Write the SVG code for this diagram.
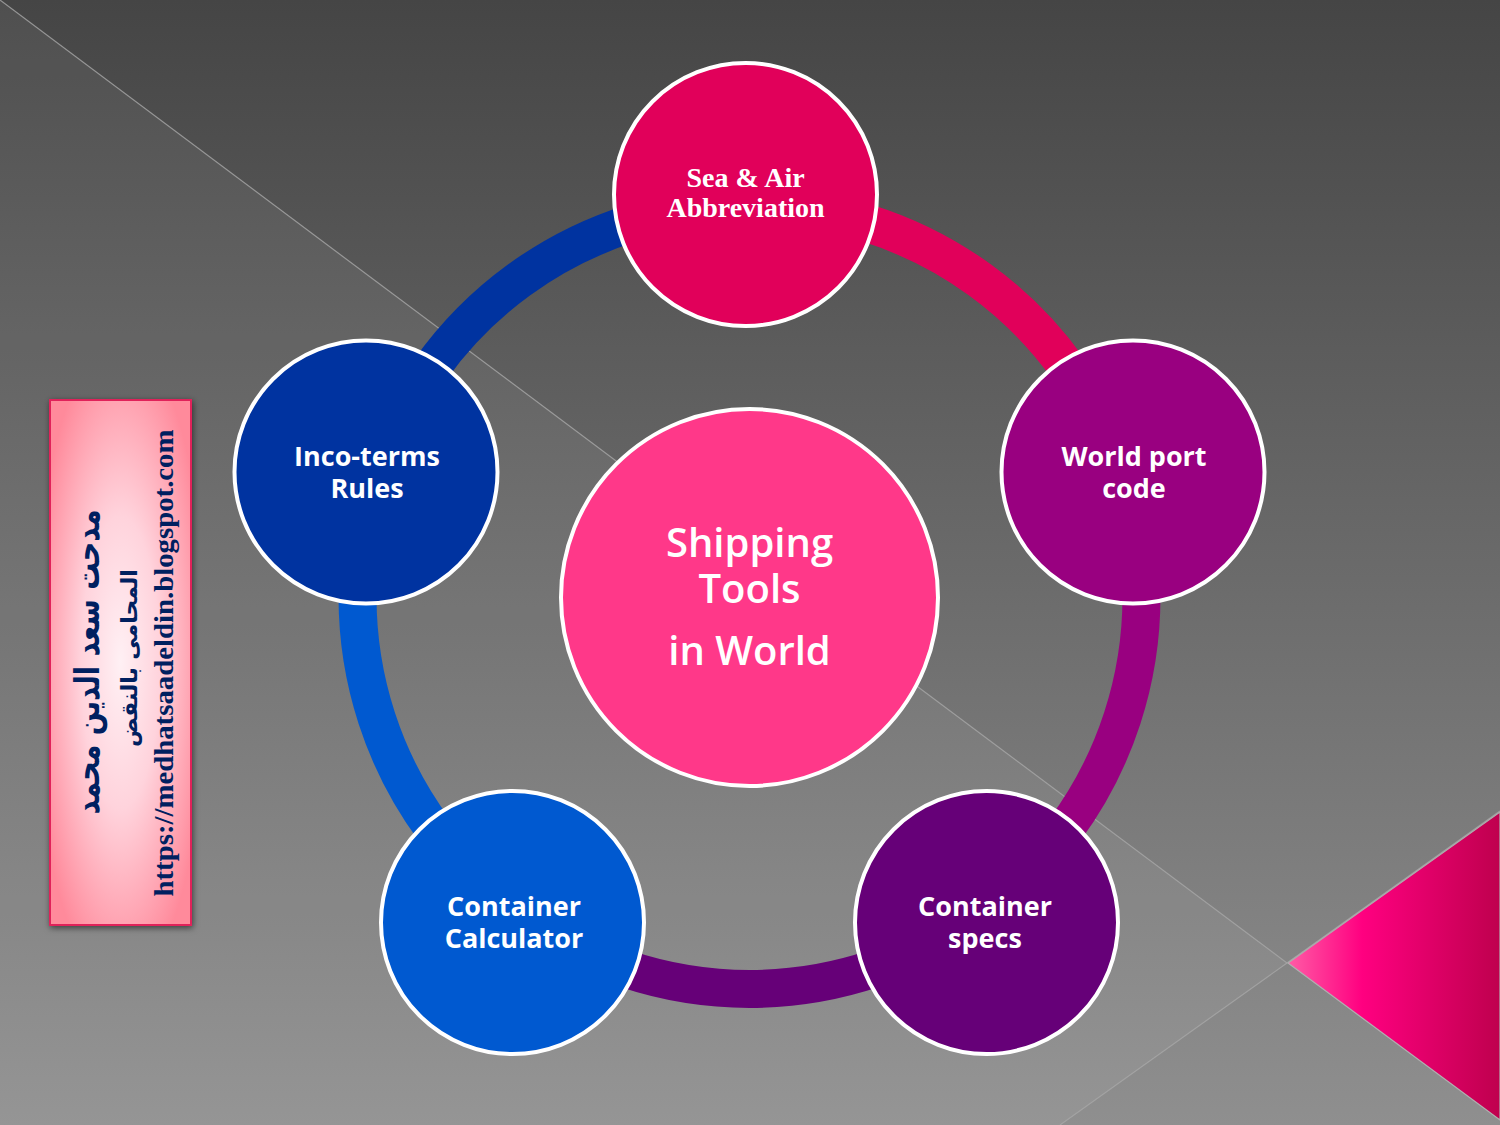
<svg xmlns="http://www.w3.org/2000/svg" width="1500" height="1125" viewBox="0 0 1500 1125">
  <defs>
    <linearGradient id="bg" x1="0" y1="0" x2="0" y2="1">
      <stop offset="0" stop-color="#454545"/>
      <stop offset="1" stop-color="#8f8f8f"/>
    </linearGradient>
    <linearGradient id="tri" x1="1288" y1="0" x2="1500" y2="0" gradientUnits="userSpaceOnUse">
      <stop offset="0" stop-color="#ff5ca6"/>
      <stop offset="0.35" stop-color="#ff0080"/>
      <stop offset="1" stop-color="#bf004e"/>
    </linearGradient>
    <radialGradient id="boxg" cx="0.5" cy="0.5" r="0.62">
      <stop offset="0" stop-color="#fff0f4"/>
      <stop offset="0.45" stop-color="#ffd3dc"/>
      <stop offset="1" stop-color="#ff8a9b"/>
    </radialGradient>
    <filter id="shadow" x="-20%" y="-10%" width="140%" height="120%">
      <feDropShadow dx="1" dy="2" stdDeviation="3" flood-color="#000" flood-opacity="0.55"/>
    </filter>
    <style>
      .node { stroke: #ffffff; stroke-width: 4; }
      .lbl { font-family: "Open Sans", "Liberation Sans", sans-serif; font-weight: bold; font-size: 27px; fill: #ffffff; text-anchor: middle; }
      .lblserif { font-family: "Liberation Serif", "Times New Roman", serif; font-weight: bold; font-size: 28px; fill: #ffffff; text-anchor: middle; }
      .center { font-family: "Open Sans", "Liberation Sans", sans-serif; font-weight: 600; font-size: 40px; fill: #ffffff; text-anchor: middle; }
      .ring { fill: none; stroke-width: 38; }
      .bgline { stroke: #a8a8a8; stroke-width: 1.2; fill: none; opacity: 0.8; }
      .ar { font-family: "DejaVu Sans", "Noto Sans", sans-serif; font-weight: bold; fill: #002060; text-anchor: middle; }
      .url { font-family: "Liberation Serif", "Times New Roman", serif; font-weight: bold; font-size: 28px; fill: #002060; text-anchor: middle; }
    </style>
  </defs>

  <!-- background -->
  <rect x="0" y="0" width="1500" height="1125" fill="url(#bg)"/>
  <polygon points="0,0 1287,963 1060,1125 0,1125" fill="#ffffff" opacity="0.055"/>
  <polygon points="1288,963 1500,812 1500,1120" fill="url(#tri)" stroke="#b0b0b0" stroke-width="1.2"/>
  <line class="bgline" x1="0" y1="0" x2="1287" y2="963"/>
  <line class="bgline" x1="1287" y1="963" x2="1060" y2="1125"/>
  <line class="bgline" x1="1287" y1="963" x2="1500" y2="811"/>

  <!-- connectors (ring segments) -->
  <g id="connectors">
    <path class="ring" stroke="#e1005a" d="M749.5,205 A392,392 0 0 1 1122.3,475.9"/>
    <path class="ring" stroke="#990080" d="M1122.3,475.9 A392,392 0 0 1 979.9,914.1"/>
    <path class="ring" stroke="#660078" d="M979.9,914.1 A392,392 0 0 1 519.1,914.1"/>
    <path class="ring" stroke="#0059d0" d="M519.1,914.1 A392,392 0 0 1 376.7,475.9"/>
    <path class="ring" stroke="#0033a0" d="M376.7,475.9 A392,392 0 0 1 749.5,205"/>
  </g>

  <g id="node-center">
    <circle class="node" cx="749.5" cy="597.5" r="188.5" fill="#ff3889"/>
    <text class="center" x="749.5" y="557">Shipping</text>
    <text class="center" x="749.5" y="603">Tools</text>
    <text class="center" x="749.5" y="665">in World</text>
  </g>

  <g id="node-sea-air">
    <circle class="node" cx="745.5" cy="194.5" r="131.5" fill="#e1005a"/>
    <text class="lblserif" x="745.5" y="187">Sea &amp; Air</text>
    <text class="lblserif" x="745.5" y="217">Abbreviation</text>
  </g>

  <g id="node-world-port">
    <circle class="node" cx="1133" cy="472" r="131.5" fill="#990080"/>
    <text class="lbl" x="1134" y="466">World port</text>
    <text class="lbl" x="1134" y="498">code</text>
  </g>

  <g id="node-container-specs">
    <circle class="node" cx="986.5" cy="922.5" r="131.5" fill="#660078"/>
    <text class="lbl" x="985" y="916">Container</text>
    <text class="lbl" x="985" y="948">specs</text>
  </g>

  <g id="node-container-calculator">
    <circle class="node" cx="512.5" cy="922.5" r="131.5" fill="#0059d0"/>
    <text class="lbl" x="514" y="916">Container</text>
    <text class="lbl" x="514" y="948">Calculator</text>
  </g>

  <g id="node-incoterms">
    <circle class="node" cx="366" cy="472" r="131.5" fill="#0033a0"/>
    <text class="lbl" x="367" y="466">Inco-terms</text>
    <text class="lbl" x="367" y="498">Rules</text>
  </g>

  <!-- author box -->
  <g id="author-box">
    <rect x="50" y="400" width="141" height="525" fill="url(#boxg)" stroke="#e0205a" stroke-width="2" filter="url(#shadow)"/>
    <text class="ar" font-size="34" textLength="305" lengthAdjust="spacingAndGlyphs" transform="translate(99 662) rotate(-90)">مدحت سعد الدين محمد</text>
    <text class="ar" font-size="22" transform="translate(137 658) rotate(-90)">المحامى بالنقض</text>
    <text class="url" textLength="467" lengthAdjust="spacingAndGlyphs" transform="translate(173 663) rotate(-90)">https://medhatsaadeldin.blogspot.com</text>
  </g>
</svg>
